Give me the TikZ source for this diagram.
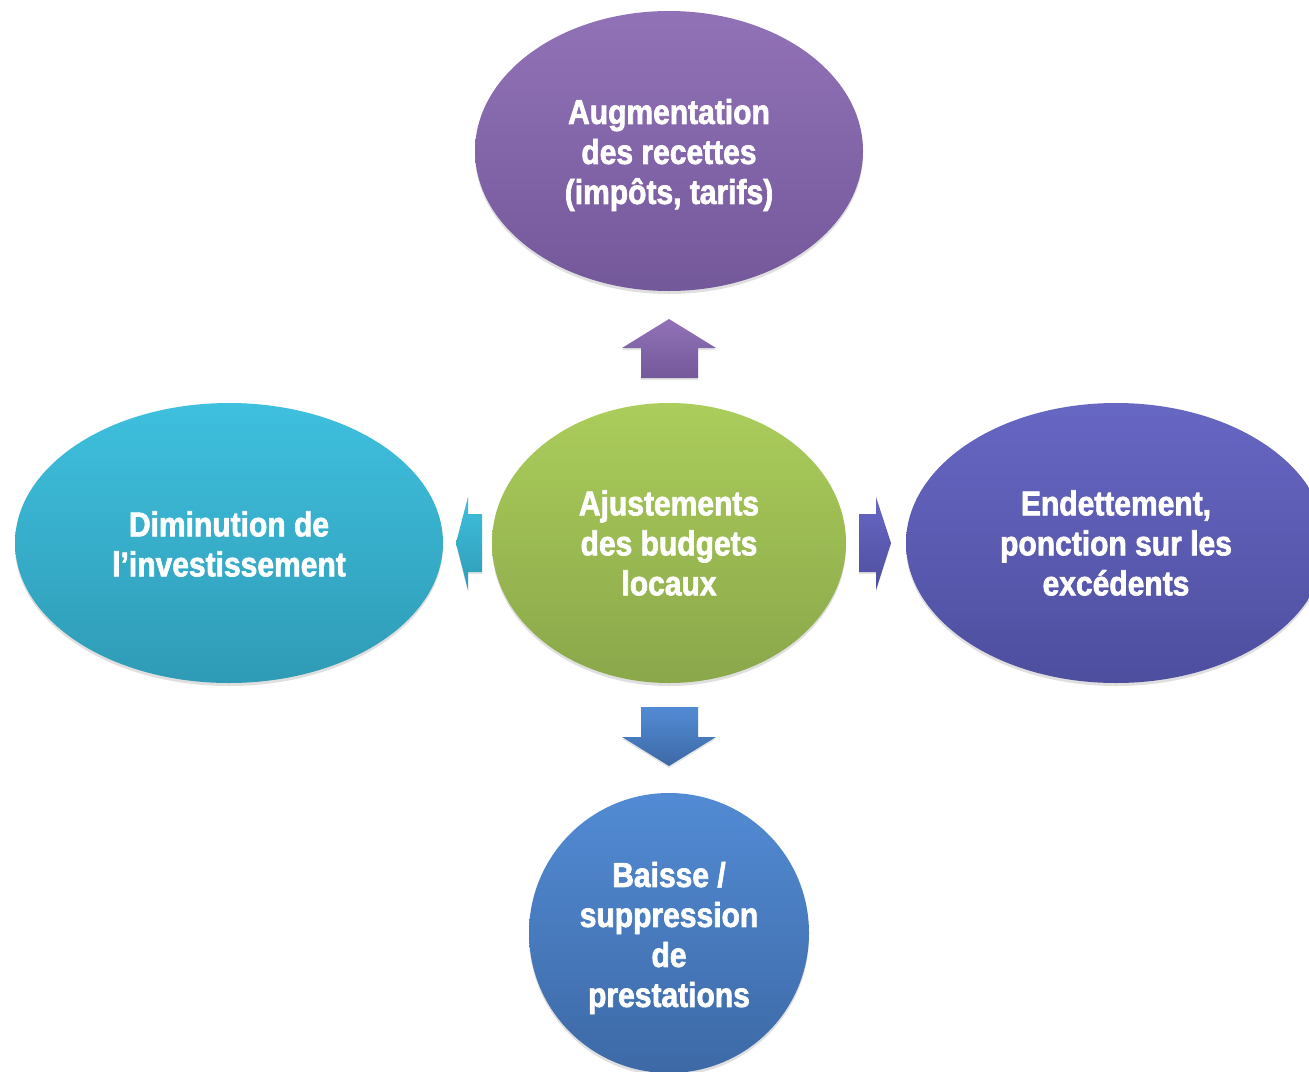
\documentclass[tikz,border=0pt]{standalone}
\usepackage{fontspec}
\setmainfont[FakeStretch=0.87,FakeBold=2]{Liberation Sans}
\usetikzlibrary{shapes.geometric,shadows}
\definecolor{purT}{HTML}{9272B7}
\definecolor{purB}{HTML}{73589A}
\definecolor{grnT}{HTML}{ABCD5B}
\definecolor{grnB}{HTML}{8AA74A}
\definecolor{cyaT}{HTML}{3EC0DE}
\definecolor{cyaB}{HTML}{2F9BB6}
\definecolor{vioT}{HTML}{6767C4}
\definecolor{vioB}{HTML}{4E4E9F}
\definecolor{bluT}{HTML}{528BD4}
\definecolor{bluB}{HTML}{3D69A6}
\begin{document}
\begin{tikzpicture}[x=1pt,y=-1pt,
  bubble/.style={ellipse, inner sep=0pt,
    drop shadow={opacity=0.25, shadow xshift=0pt, shadow yshift=-3pt}},
  bubbletext/.style={inner sep=0pt, text=white, align=center,
    font=\bfseries\fontsize{34.5}{40}\selectfont},
  blockarrow/.style={drop shadow={opacity=0.2, shadow xshift=0pt, shadow yshift=-2pt}}
]
\useasboundingbox (0,0) rectangle (1309,1071);
\clip (0,0) rectangle (1309,1071);
\fill[white] (0,0) rectangle (1309,1071);

% block arrows
\path[blockarrow, top color=purT, bottom color=purB]
  (641,378) -- (641,348) -- (622,348) -- (669,319) -- (716,348) -- (698,348) -- (698,378) -- cycle;
\path[blockarrow, top color=bluT, bottom color=bluB]
  (641,707) -- (698,707) -- (698,737) -- (716,737) -- (669,766) -- (622,737) -- (641,737) -- cycle;
\path[blockarrow, top color=cyaT, bottom color=cyaB]
  (482,514) -- (468,514) -- (468,497) -- (456,543) -- (468,590) -- (468,572) -- (482,572) -- cycle;
\path[blockarrow, top color=vioT, bottom color=vioB]
  (859,514) -- (876,514) -- (876,497) -- (891,543) -- (876,590) -- (876,572) -- (859,572) -- cycle;

% bubbles
\node[bubble, minimum width=354pt, minimum height=280pt, top color=grnT, bottom color=grnB]
  (centre) at (669,543) {};
\node[bubble, minimum width=388pt, minimum height=280pt, top color=purT, bottom color=purB]
  (haut) at (669,151) {};
\node[bubble, minimum width=428pt, minimum height=280pt, top color=cyaT, bottom color=cyaB]
  (gauche) at (229,543) {};
\node[bubble, minimum width=420pt, minimum height=280pt, top color=vioT, bottom color=vioB]
  (droite) at (1116,543) {};
\node[bubble, minimum width=280pt, minimum height=280pt, top color=bluT, bottom color=bluB]
  (bas) at (669,933) {};

% texts
\node[bubbletext] (centreT) at ([yshift=0pt]centre.center) {Ajustements\\des budgets\\locaux};
\node[bubbletext] (hautT) at ([yshift=-4pt]haut.center) {Augmentation\\des recettes\\(impôts, tarifs)};
\node[bubbletext] (gaucheT) at ([yshift=-1pt]gauche.center) {Diminution de\\l’investissement};
\node[bubbletext] (droiteT) at ([yshift=0pt]droite.center) {Endettement,\\ponction sur les\\excédents};
\node[bubbletext] (basT) at ([yshift=-5pt]bas.center) {Baisse /\\suppression\\de\\prestations};
\end{tikzpicture}
\end{document}
